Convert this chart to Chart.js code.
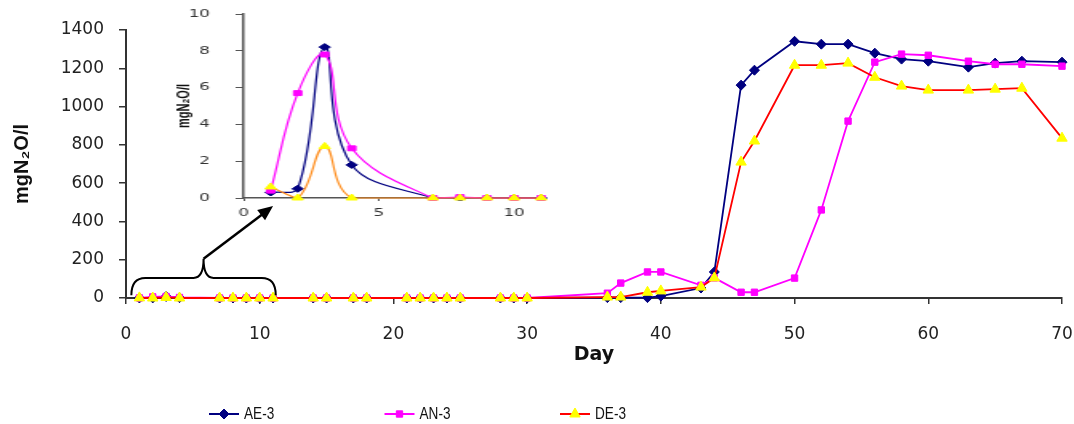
<!DOCTYPE html>
<html>
<head>
<meta charset="utf-8">
<title>N2O production</title>
<script src="https://cdn.jsdelivr.net/npm/chart.js@4.4.1/dist/chart.umd.min.js"></script>
<style>
  html, body { margin: 0; padding: 0; background: #fff; }
  #wrap { position: relative; width: 1074px; height: 424px; overflow: hidden; }
  #main { position: absolute; left: 0; top: 0; }
  /* the small early-days plot is drawn narrow and stretched sideways */
  #inset { position: absolute; left: 170px; top: 0; transform: scaleX(1.6); transform-origin: 0 0; }
</style>
</head>
<body>
<div id="wrap">
  <canvas id="main" width="1074" height="424"></canvas>
  <canvas id="inset" width="244" height="230"></canvas>
</div>
<script>
// ── data: sampling days and N2O (mg/l) per reactor ──────────────────────
const DAYS = [1, 2, 3, 4, 7, 8, 9, 10, 11, 14, 15, 17, 18, 21, 22, 23, 24, 25, 28, 29, 30,
              36, 37, 39, 40, 43, 44, 46, 47, 50, 52, 54, 56, 58, 60, 63, 65, 67, 70];
const AE3 = [0.3, 0.5, 8.2, 1.8, 0, 0, 0, 0, 0, 0, 0, 0, 0, 0, 0, 0, 0, 0, 0, 0, 0,
             2, 2, 2, 10, 52, 136, 1112, 1190, 1341, 1326, 1326, 1279, 1248, 1237, 1206, 1227, 1237, 1232];
const AN3 = [0.4, 5.7, 7.8, 2.7, 0, 0.05, 0, 0, 0, 0, 0, 0, 0, 0, 0, 0, 0, 0, 0, 0, 0,
             25, 78, 136, 136, 66, 105, 30, 30, 104, 460, 924, 1232, 1274, 1268, 1237, 1221, 1221, 1211];
const DE3 = [0.6, 0, 2.8, 0, 0, 0, 0, 0, 0, 0, 0, 0, 0, 0, 0, 0, 0, 0, 0, 0, 0,
             5, 5, 30, 37, 57, 105, 710, 820, 1216, 1216, 1227, 1153, 1107, 1086, 1086, 1091, 1096, 835];
const SERIES = ['AE-3', 'AN-3', 'DE-3'];

const X_TICKS = [0, 10, 20, 30, 40, 50, 60, 70];
const Y_TICKS = [0, 200, 400, 600, 800, 1000, 1200, 1400];
const INSET_DAYS = 9;                 // first nine samples = days 1–11
const INSET_X_TICKS = [0, 5, 10];
const INSET_Y_TICKS = [0, 2, 4, 6, 8, 10];

// brace under days 1–11 and arrow pointing up at the inset (axis units)
const BRACE = { from: 0.4, to: 11.2, mid: 5.8, base: 15, bar: 105, tip: 205 };
const ARROW_END = { x: 11, y: 480 };

const NAVY = '#000080', MAGENTA = '#ff00ff', RED = '#ff0000', YELLOW = '#ffff00', ORANGE = '#ff8c1a';

const pts = (vals, n) => DAYS.slice(0, n).map((d, i) => ({ x: d, y: vals[i] }));
const fixTicks = list => scale => { scale.ticks = list.map(v => ({ value: v })); };
const plain = v => String(v);
// fixed axis boxes; label padding must not shrink the plot area
const fitX = h => s => { s.height = h; s.paddingLeft = 0; s.paddingRight = 0; };
const fitY = w => s => { s.width = w; s.paddingTop = 0; s.paddingBottom = 0; };

// ── plugins ─────────────────────────────────────────────────────────────
const braceArrow = {
  id: 'braceArrow',
  afterDatasetsDraw(chart) {
    const { ctx, scales: { x, y } } = chart;
    const x0 = x.getPixelForValue(BRACE.from), x1 = x.getPixelForValue(BRACE.to);
    const xm = x.getPixelForValue(BRACE.mid);
    const yb = y.getPixelForValue(BRACE.base), yc = y.getPixelForValue(BRACE.bar);
    const yt = y.getPixelForValue(BRACE.tip);
    ctx.save();
    ctx.strokeStyle = '#000';
    ctx.lineWidth = 2;
    ctx.beginPath();
    ctx.moveTo(x0, yb);
    ctx.quadraticCurveTo(x0, yc, x0 + 14, yc);
    ctx.lineTo(xm - 10, yc);
    ctx.quadraticCurveTo(xm, yc, xm, yt);
    ctx.quadraticCurveTo(xm, yc, xm + 10, yc);
    ctx.lineTo(x1 - 14, yc);
    ctx.quadraticCurveTo(x1, yc, x1, yb);
    ctx.stroke();

    const ax = x.getPixelForValue(ARROW_END.x), ay = y.getPixelForValue(ARROW_END.y);
    const ang = Math.atan2(ay - yt, ax - xm);
    ctx.lineWidth = 2.5;
    ctx.beginPath();
    ctx.moveTo(xm, yt);
    ctx.lineTo(ax - 10 * Math.cos(ang), ay - 10 * Math.sin(ang));
    ctx.stroke();
    ctx.translate(ax, ay);
    ctx.rotate(ang);
    ctx.fillStyle = '#000';
    ctx.beginPath();
    ctx.moveTo(0, 0);
    ctx.lineTo(-15, -6.5);
    ctx.lineTo(-15, 6.5);
    ctx.closePath();
    ctx.fill();
    ctx.restore();
  }
};

const legendRow = {
  id: 'legendRow',
  afterDraw(chart) {
    const ctx = chart.ctx;
    const yMid = 414;
    chart.data.datasets.forEach((ds, i) => {
      const left = 209 + i * 175.5;
      ctx.save();
      ctx.strokeStyle = ds.borderColor;
      ctx.lineWidth = 2;
      ctx.beginPath();
      ctx.moveTo(left, yMid);
      ctx.lineTo(left + 30, yMid);
      ctx.stroke();
      ctx.fillStyle = ds.pointBackgroundColor;
      ctx.strokeStyle = ds.pointBorderColor;
      ctx.lineWidth = 1;
      Chart.helpers.drawPoint(ctx, { pointStyle: ds.pointStyle, radius: ds.pointRadius, rotation: 0, borderWidth: 1 },
        left + 15, yMid);
      ctx.translate(left + 35, yMid);
      ctx.scale(0.85, 1);
      ctx.fillStyle = '#111';
      ctx.font = '16px "Liberation Sans", Arial, sans-serif';
      ctx.textBaseline = 'middle';
      ctx.fillText(ds.label, 0, 1);
      ctx.restore();
    });
  }
};

// ── main chart ──────────────────────────────────────────────────────────
const line = (label, vals, color, marker, style, r, order) => ({
  label, data: pts(vals), order,
  borderColor: color, borderWidth: 1.8, tension: 0,
  pointStyle: style, pointRadius: r, pointBackgroundColor: marker, pointBorderColor: marker,
  pointBorderWidth: 1, clip: false
});

const axisFont = { family: '"DejaVu Sans", sans-serif', size: 17 };

new Chart(document.getElementById('main'), {
  type: 'line',
  data: {
    datasets: [
      line(SERIES[0], AE3, NAVY, NAVY, 'rectRot', 5, 3),
      line(SERIES[1], AN3, MAGENTA, MAGENTA, 'rect', 4.5, 2),
      line(SERIES[2], DE3, RED, YELLOW, 'triangle', 6, 1)
    ]
  },
  options: {
    responsive: false, animation: false, events: [],
    layout: { padding: { top: 30, right: 12, bottom: 58, left: 0 } },
    plugins: { legend: { display: false }, tooltip: { enabled: false } },
    scales: {
      x: {
        type: 'linear', min: 0, max: 70,
        afterBuildTicks: fixTicks(X_TICKS),
        afterFit: fitX(68),
        grid: { drawOnChartArea: false, tickLength: 6, color: '#333', lineWidth: 1.5 },
        border: { color: '#333', width: 2 },
        ticks: { font: axisFont, color: '#222', padding: 20, maxRotation: 0, callback: plain },
        title: { display: true, text: 'Day', color: '#111', padding: 0,
                 font: { family: '"DejaVu Sans", sans-serif', size: 19, weight: 'bold' } }
      },
      y: {
        min: 0, max: 1400,
        afterBuildTicks: fixTicks(Y_TICKS),
        afterFit: fitY(126),
        grid: { drawOnChartArea: false, tickLength: 7, color: '#333', lineWidth: 1.5 },
        border: { color: '#333', width: 2 },
        ticks: { font: axisFont, color: '#222', padding: 15, callback: plain },
        title: { display: true, text: 'mgN₂O/l', color: '#111', padding: { top: 10, bottom: 0 },
                 font: { family: '"Liberation Sans", Arial, sans-serif', size: 20, weight: 'bold' } }
      }
    }
  },
  plugins: [braceArrow, legendRow]
});

// ── inset: days 1–11 on a 0–10 scale ─────────────────────────────────────
const smooth = (label, vals, color, marker, style, r, order) => ({
  label, data: pts(vals, INSET_DAYS), order,
  borderColor: color, borderWidth: 1.2, tension: 0.4,
  pointStyle: style, pointRadius: r, pointBackgroundColor: marker, pointBorderColor: marker,
  pointBorderWidth: 1, clip: { left: false, top: false, right: false, bottom: 3 }
});

const insetFont = { family: '"DejaVu Sans", sans-serif', size: 10.5 };

new Chart(document.getElementById('inset'), {
  type: 'line',
  data: {
    datasets: [
      smooth(SERIES[0], AE3, NAVY, NAVY, 'rectRot', 3.5, 3),
      smooth(SERIES[1], AN3, MAGENTA, MAGENTA, 'rect', 3.5, 2),
      smooth(SERIES[2], DE3, ORANGE, YELLOW, 'triangle', 4, 1)
    ]
  },
  options: {
    responsive: false, animation: false, events: [],
    layout: { padding: { top: 14, right: 12, bottom: 0, left: 0 } },
    plugins: { legend: { display: false }, tooltip: { enabled: false } },
    scales: {
      x: {
        type: 'linear', min: 0, max: 11,
        afterBuildTicks: fixTicks(INSET_X_TICKS),
        afterFit: fitX(32),
        grid: { drawOnChartArea: false, tickLength: 3, color: '#555' },
        border: { color: '#555', width: 1.5 },
        ticks: { font: insetFont, color: '#333', padding: 6, maxRotation: 0 }
      },
      y: {
        min: 0, max: 10,
        afterBuildTicks: fixTicks(INSET_Y_TICKS),
        afterFit: fitY(46),
        grid: { drawOnChartArea: false, tickLength: 5, color: '#555' },
        border: { color: '#555', width: 1.5 },
        ticks: { font: insetFont, color: '#333', padding: 16 },
        title: { display: true, text: 'mgN₂O/l', color: '#111', padding: { top: 2, bottom: 0 },
                 font: { family: '"Liberation Sans", Arial, sans-serif', size: 11, weight: 'bold' } }
      }
    }
  }
});
</script>
</body>
</html>
